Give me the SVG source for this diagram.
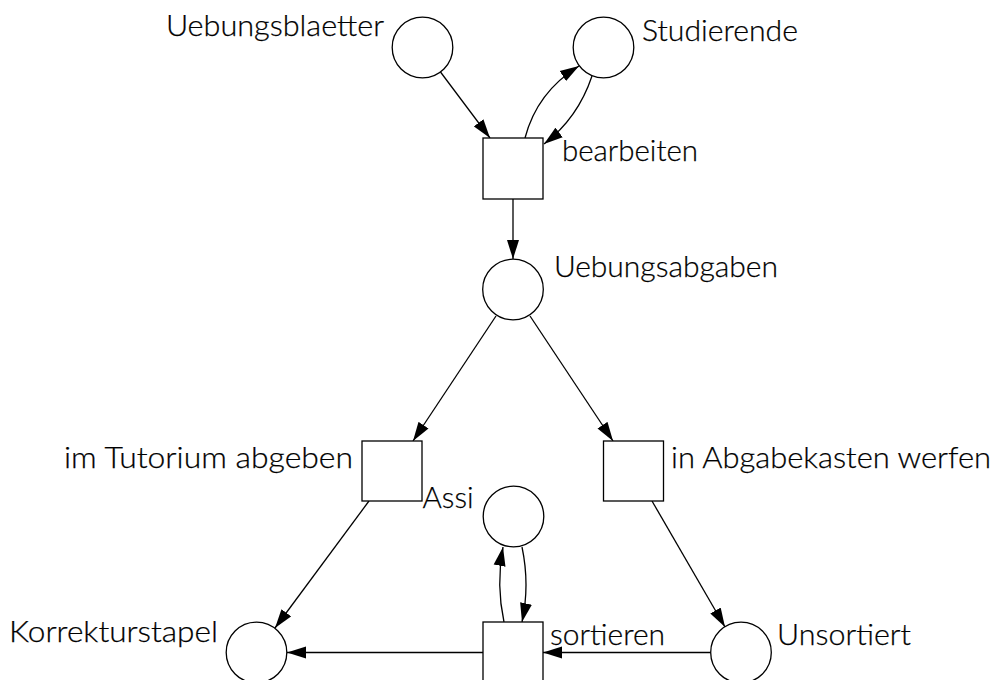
<svg xmlns="http://www.w3.org/2000/svg" width="997" height="680" viewBox="0 0 997 680">
  <style>
    .place { fill: #ffffff; stroke: #000000; stroke-width: 1.3; }
    .trans { fill: #ffffff; stroke: #000000; stroke-width: 1.3; }
    .arc { fill: none; stroke: #000000; stroke-width: 1.3; marker-end: url(#head); }
    .lbl { font-family: "Lato", "Liberation Sans", sans-serif; font-size: 29px; font-weight: 300; fill: #000000; stroke: #000000; stroke-width: 0.25; }
  </style>
  <defs>
    <marker id="head" markerUnits="userSpaceOnUse" markerWidth="20" markerHeight="13" viewBox="0 0 20 13" refX="19" refY="6.5" orient="auto">
      <path d="M0,0.5 L19,6.5 L0,12.5 Z" fill="#000000"/>
    </marker>
  </defs>

  <!-- connectors -->
  <g id="arcs">
    <path class="arc" d="M440.5,72 L490,138"/>
    <path class="arc" d="M525,138 Q537,92 579,66"/>
    <path class="arc" d="M592,76 Q578,118 544,144"/>
    <path class="arc" d="M513,199 L513,259"/>
    <path class="arc" d="M496,316 L413,441"/>
    <path class="arc" d="M530,316 L613,441"/>
    <path class="arc" d="M369,501 L275,628"/>
    <path class="arc" d="M652,501 L725,627"/>
    <path class="arc" d="M711,652.5 L543,652.5"/>
    <path class="arc" d="M483,652.5 L287,652.5"/>
    <path class="arc" d="M504,622 Q496,585 503,547"/>
    <path class="arc" d="M522,547 Q530,585 522,622"/>
  </g>

  <!-- places -->
  <g id="uebungsblaetter">
    <circle class="place" cx="422.5" cy="47.5" r="30.3"/>
    <text class="lbl" x="166" y="36" textLength="218" lengthAdjust="spacingAndGlyphs">Uebungsblaetter</text>
  </g>
  <g id="studierende">
    <circle class="place" cx="603.5" cy="47.5" r="30.3"/>
    <text class="lbl" x="642" y="41" textLength="156" lengthAdjust="spacingAndGlyphs">Studierende</text>
  </g>
  <g id="uebungsabgaben">
    <circle class="place" cx="513" cy="289.5" r="30.3"/>
    <text class="lbl" x="554" y="277" textLength="224" lengthAdjust="spacingAndGlyphs">Uebungsabgaben</text>
  </g>
  <g id="assi">
    <circle class="place" cx="513.5" cy="516.5" r="30.3"/>
    <text class="lbl" x="422.5" y="508" textLength="51" lengthAdjust="spacingAndGlyphs">Assi</text>
  </g>
  <g id="korrekturstapel">
    <circle class="place" cx="256.5" cy="652.5" r="30.3"/>
    <text class="lbl" x="9" y="642" textLength="209" lengthAdjust="spacingAndGlyphs">Korrekturstapel</text>
  </g>
  <g id="unsortiert">
    <circle class="place" cx="741" cy="652.5" r="30.3"/>
    <text class="lbl" x="777" y="645" textLength="134" lengthAdjust="spacingAndGlyphs">Unsortiert</text>
  </g>

  <!-- transitions -->
  <g id="bearbeiten">
    <rect class="trans" x="483" y="138" width="60" height="61"/>
    <text class="lbl" x="562" y="161" textLength="136" lengthAdjust="spacingAndGlyphs">bearbeiten</text>
  </g>
  <g id="im-tutorium-abgeben">
    <rect class="trans" x="362" y="441" width="60" height="60"/>
    <text class="lbl" x="64" y="468" textLength="289" lengthAdjust="spacingAndGlyphs">im Tutorium abgeben</text>
  </g>
  <g id="in-abgabekasten-werfen">
    <rect class="trans" x="603.5" y="441" width="60" height="60"/>
    <text class="lbl" x="671" y="468" textLength="320" lengthAdjust="spacingAndGlyphs">in Abgabekasten werfen</text>
  </g>
  <g id="sortieren">
    <rect class="trans" x="483" y="622" width="60" height="61"/>
    <text class="lbl" x="550" y="645" textLength="115" lengthAdjust="spacingAndGlyphs">sortieren</text>
  </g>
</svg>
